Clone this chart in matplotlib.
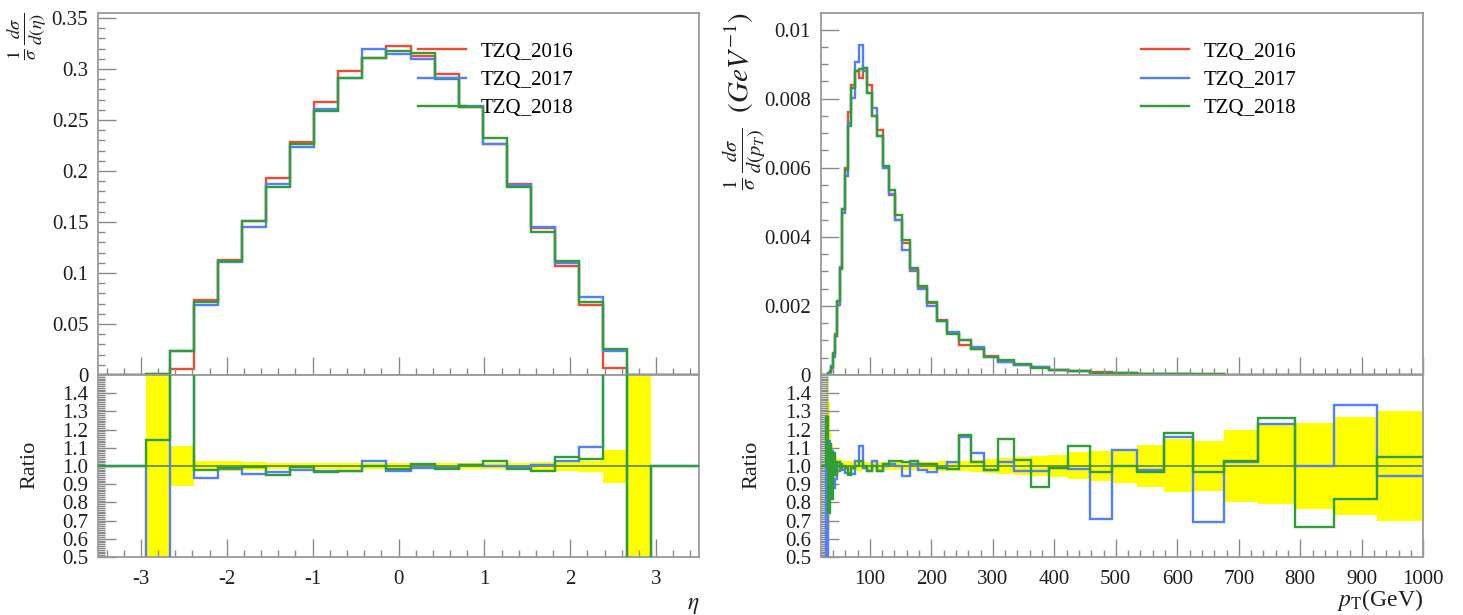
import numpy as np
import matplotlib
matplotlib.use("Agg")
import matplotlib.pyplot as plt
from matplotlib.ticker import MultipleLocator, FuncFormatter
from matplotlib.lines import Line2D

plt.rcParams['font.family'] = ['Liberation Serif', 'DejaVu Serif']
plt.rcParams['mathtext.fontset'] = 'stix'
plt.rcParams['axes.unicode_minus'] = False

# ---------------------------------------------------------------- data
labels = ['TZQ_2016', 'TZQ_2017', 'TZQ_2018']
colors = ['#f04a32', '#5080ff', '#2f9e36']

# pseudorapidity: 25 bins in [-3.5, 3.5]
eta_edges = np.linspace(-3.5, 3.5, 26)
eta_2016 = [0, 0, 0.0005, 0.0062, 0.0734, 0.1125, 0.1515, 0.1935, 0.2285, 0.2675,
            0.2985, 0.3110, 0.3225, 0.3125, 0.2950, 0.2625, 0.2268, 0.1872, 0.1440,
            0.1068, 0.0690, 0.0068, 0.0004, 0, 0]
eta_2017 = [0, 0, 0, 0.0235, 0.0686, 0.1108, 0.1450, 0.1870, 0.2239, 0.2608,
            0.2910, 0.3197, 0.3144, 0.3094, 0.2912, 0.2638, 0.2268, 0.1859, 0.1450,
            0.1098, 0.0762, 0.0240, 0, 0, 0]
eta_2018 = [0, 0, 0.00057, 0.0236, 0.0719, 0.1114, 0.1507, 0.1842, 0.2269, 0.2587,
            0.2910, 0.3104, 0.3177, 0.3156, 0.2900, 0.2633, 0.2325, 0.1844, 0.1404,
            0.1121, 0.0718, 0.0258, 0, 0, 0]
# ratios to TZQ_2016
eta_ratio_2017 = [1, 1, 0.0, 3.8, 0.935, 0.985, 0.957, 0.967, 0.980, 0.975,
                  0.975, 1.028, 0.975, 0.990, 0.987, 1.005, 1.000, 0.993, 1.007,
                  1.028, 1.105, 3.5, 0.0, 1, 1]
eta_ratio_2018 = [1, 1, 1.145, 3.8, 0.980, 0.990, 0.995, 0.952, 0.993, 0.967,
                  0.975, 0.998, 0.985, 1.010, 0.983, 1.003, 1.025, 0.985, 0.975,
                  1.050, 1.040, 3.8, 0.0, 1, 1]
# relative uncertainty band of TZQ_2016
eta_band_hi = [np.nan, np.nan, 2.0, 1.11, 1.030, 1.025, 1.020, 1.018, 1.016, 1.015,
               1.015, 1.014, 1.014, 1.014, 1.015, 1.015, 1.016, 1.018, 1.020,
               1.025, 1.030, 1.09, 2.0, np.nan, np.nan]
eta_band_lo = [np.nan, np.nan, 0.0, 0.89, 0.970, 0.975, 0.980, 0.982, 0.984, 0.985,
               0.985, 0.986, 0.986, 0.986, 0.985, 0.985, 0.984, 0.982, 0.978,
               0.975, 0.966, 0.905, 0.0, np.nan, np.nan]

# transverse momentum: 50 logarithmic bins in [20, 1000] GeV
pt_edges = np.geomspace(20, 1000, 51)
pt_2016 = [0, 0, 0, 0, 0, 1.0e-5, 4.0e-5, 1.0e-4, 2.5e-4, 6.0e-4,
           0.0012, 0.0021, 0.0031, 0.0048, 0.0060, 0.0076, 0.0084, 0.0088, 0.0086, 0.0089,
           0.0084, 0.0075, 0.0071, 0.0060, 0.0052, 0.0045, 0.00383, 0.00300, 0.00254, 0.00208,
           0.00158, 0.00122, 0.00087, 0.00075, 0.00054, 0.00038, 0.00030, 0.00024, 0.000155, 0.000105,
           7.5e-5, 5.2e-5, 3.6e-5, 2.5e-5, 1.8e-5, 1.2e-5, 8.5e-6, 6.0e-6, 4.0e-6, 2.8e-6]
pt_2017 = [0, 0, 0, 0, 0, 0, 4.6e-5, 0.86e-4, 2.7e-4, 5.3e-4,
           0.00112, 0.00204, 0.00313, 0.00470, 0.00576, 0.00730, 0.00802, 0.00906, 0.00955, 0.00881,
           0.00815, 0.00773, 0.00692, 0.00600, 0.00525, 0.00450, 0.00362, 0.00303, 0.00249, 0.00201,
           0.00156, 0.00124, 0.00101, 0.00080, 0.000529, 0.000388, 0.000291, 0.000233, 0.000153, 0.000103,
           5.3e-5, 5.7e-5, 3.5e-5, 2.9e-5, 1.24e-5, 1.22e-5, 1.05e-5, 6.0e-6, 5.3e-6, 2.6e-6]
pt_2018 = [0, 0, 0, 0, 0, 1.3e-5, 3.0e-5, 1.12e-4, 2.05e-4, 6.4e-4,
           0.00114, 0.00214, 0.00307, 0.00480, 0.00594, 0.00722, 0.00832, 0.00880, 0.00886, 0.00890,
           0.00815, 0.00750, 0.00692, 0.00606, 0.00536, 0.00464, 0.00391, 0.00309, 0.00257, 0.00210,
           0.00156, 0.00120, 0.00102, 0.000765, 0.000529, 0.000437, 0.000310, 0.000212, 0.000153, 0.000117,
           7.2e-5, 5.2e-5, 3.5e-5, 2.95e-5, 1.74e-5, 1.24e-5, 1.08e-5, 4.0e-6, 3.3e-6, 2.9e-6]
pt_ratio_2017 = [1, 1, 1, 1, 1, 0.0, 1.14, 0.86, 1.08, 0.88,
                 0.93, 0.97, 1.01, 0.98, 0.96, 0.96, 0.955, 1.03, 1.11, 0.99,
                 0.97, 1.03, 0.975, 1.00, 1.01, 1.00, 0.945, 1.01, 0.98, 0.965,
                 0.99, 1.02, 1.16, 1.07, 0.98, 1.02, 0.97, 0.97, 0.99, 0.985,
                 0.71, 1.09, 0.98, 1.16, 0.69, 1.02, 1.23, 1.00, 1.335, 0.945]
pt_ratio_2018 = [1, 1, 1, 1, 1, 1.27, 0.74, 1.12, 0.82, 1.07,
                 0.95, 1.02, 0.99, 1.00, 0.99, 0.95, 0.99, 1.00, 1.03, 1.00,
                 0.97, 1.00, 0.975, 1.01, 1.03, 1.03, 1.02, 1.03, 1.01, 1.01,
                 0.99, 0.985, 1.17, 1.02, 0.98, 1.15, 1.035, 0.885, 0.99, 1.11,
                 0.965, 1.00, 0.965, 1.18, 0.965, 1.03, 1.265, 0.665, 0.82, 1.048]
pt_band_hi = [np.nan] * 5 + [2.0, 1.35, 1.20, 1.12, 1.08,
              1.055, 1.04, 1.035, 1.03, 1.025, 1.025, 1.025, 1.025, 1.025, 1.022,
              1.02, 1.02, 1.02, 1.02, 1.02, 1.02, 1.02, 1.02, 1.02, 1.022,
              1.025, 1.028, 1.03, 1.035, 1.04, 1.045, 1.05, 1.055, 1.06, 1.075,
              1.085, 1.09, 1.115, 1.15, 1.14, 1.20, 1.225, 1.237, 1.27, 1.30]
pt_band_lo = [np.nan] * 5 + [0.0, 0.65, 0.80, 0.88, 0.92,
              0.945, 0.96, 0.965, 0.97, 0.975, 0.975, 0.975, 0.975, 0.975, 0.978,
              0.98, 0.98, 0.98, 0.98, 0.98, 0.98, 0.98, 0.98, 0.98, 0.978,
              0.975, 0.972, 0.97, 0.965, 0.96, 0.955, 0.95, 0.945, 0.94, 0.928,
              0.915, 0.905, 0.885, 0.855, 0.86, 0.80, 0.79, 0.765, 0.733, 0.70]

# ---------------------------------------------------------------- style
TICK_GREY = '#8a8a8a'
TEXT = '#1e1e1e'
FS = 15
LW = 1.7


def style_axes(ax):
    for sp in ax.spines.values():
        sp.set_color('#9a9a9a')
        sp.set_linewidth(1.3)
    ax.tick_params(which='both', direction='in', colors=TICK_GREY,
                   labelcolor=TEXT, labelsize=FS, top=False, right=False,
                   left=True, bottom=True, width=1.0, pad=7)
    ax.tick_params(which='major', length=13)
    ax.tick_params(which='minor', length=5)


def fmt_g(v, _):
    return f"{round(v, 6):g}"


def draw_pair(fig, rect_top, rect_ratio, edges, series, ratios, band_lo, band_hi,
              xlim, ylim, ymaj, ymin, xmaj, xmin):
    ax = fig.add_axes(rect_top)
    rx = fig.add_axes(rect_ratio, sharex=ax)
    for vals, col in zip(series, colors):
        ax.stairs(vals, edges, color=col, lw=LW, baseline=0)
    ax.set_xlim(*xlim)
    ax.set_ylim(*ylim)
    ax.yaxis.set_major_locator(MultipleLocator(ymaj))
    ax.yaxis.set_minor_locator(MultipleLocator(ymin))
    ax.yaxis.set_major_formatter(FuncFormatter(fmt_g))
    ax.xaxis.set_major_locator(MultipleLocator(xmaj))
    ax.xaxis.set_minor_locator(MultipleLocator(xmin))
    style_axes(ax)
    ax.tick_params(labelbottom=False)

    handles = [Line2D([], [], color=c, lw=LW) for c in colors]
    ax.legend(handles, labels, loc='upper left', bbox_to_anchor=(0.532, 0.92),
              frameon=False, fontsize=FS, handlelength=2.3, handletextpad=0.7,
              labelspacing=0.42, borderaxespad=0, borderpad=0)

    # ratio panel
    lo = np.asarray(band_lo, float)
    hi = np.asarray(band_hi, float)
    rx.stairs(hi, edges, baseline=lo, fill=True, color='#ffff00', lw=0, zorder=1)
    rx.axhline(1.0, color='#4a7f34', lw=1.4, alpha=0.8, zorder=2)
    for vals, col in zip(ratios, colors[1:]):
        rx.stairs(vals, edges, color=col, lw=LW, baseline=None, zorder=3)
    rx.set_ylim(0.5, 1.5)
    rx.set_yticks(np.arange(0.5, 1.45, 0.1))
    rx.yaxis.set_major_formatter(FuncFormatter(lambda v, _: f"{v:.1f}"))
    rx.yaxis.set_minor_locator(MultipleLocator(0.01))
    style_axes(rx)
    rx.tick_params(pad=9, axis='x')
    return ax, rx


fig = plt.figure(figsize=(14.63, 6.15), dpi=100)

W, H = 1463.0, 615.0
y_top0, y_split, y_bot = 13, 375, 557
top_h = (y_split - y_top0) / H
top_b = (H - y_split) / H
rat_b = (H - y_bot) / H
rat_h = (y_bot - y_split) / H

# left: eta
axL, rL = draw_pair(fig, [98 / W, top_b, 601 / W, top_h], [98 / W, rat_b, 601 / W, rat_h],
                    eta_edges, [eta_2016, eta_2017, eta_2018],
                    [eta_ratio_2017, eta_ratio_2018], eta_band_lo, eta_band_hi,
                    (-3.5, 3.5), (0, 0.355), 0.05, 0.01, 1, 0.2)
rL.set_xticks([-3, -2, -1, 0, 1, 2, 3])

# right: pT
axR, rR = draw_pair(fig, [820.6 / W, top_b, 602.7 / W, top_h], [820.6 / W, rat_b, 602.7 / W, rat_h],
                    pt_edges, [pt_2016, pt_2017, pt_2018],
                    [pt_ratio_2017, pt_ratio_2018], pt_band_lo, pt_band_hi,
                    (20, 1000), (0, 0.01048), 0.002, 0.0005, 100, 20)
rR.set_xticks(np.arange(100, 1001, 100))

# axis titles
fig.text(27 / W, 1 - 12 / H, r'$\frac{1}{\sigma}\,\frac{d\sigma}{d(\eta)}$', rotation=90,
         ha='center', va='top', fontsize=19, color=TEXT)
fig.text(30 / W, 1 - 465 / H, 'Ratio', rotation=90, ha='center', va='center',
         fontsize=FS + 1, color=TEXT)
fig.text(745 / W, 1 - 12 / H, r'$\frac{1}{\sigma}\,\frac{d\sigma}{d(p_T)}\ \ (GeV^{-1})$',
         rotation=90, ha='center', va='top', fontsize=21, color=TEXT)
fig.text(752 / W, 1 - 465 / H, 'Ratio', rotation=90, ha='center', va='center',
         fontsize=FS + 1, color=TEXT)
fig.text(699 / W, 1 - 605 / H, r'$\eta$', ha='right', va='center', fontsize=FS + 2, color=TEXT)
fig.text(1423 / W, 1 - 600 / H, r'$p_\mathrm{T}$(GeV)', ha='right', va='center',
         fontsize=FS + 2, color=TEXT)

fig.savefig('out.png', dpi=100)
